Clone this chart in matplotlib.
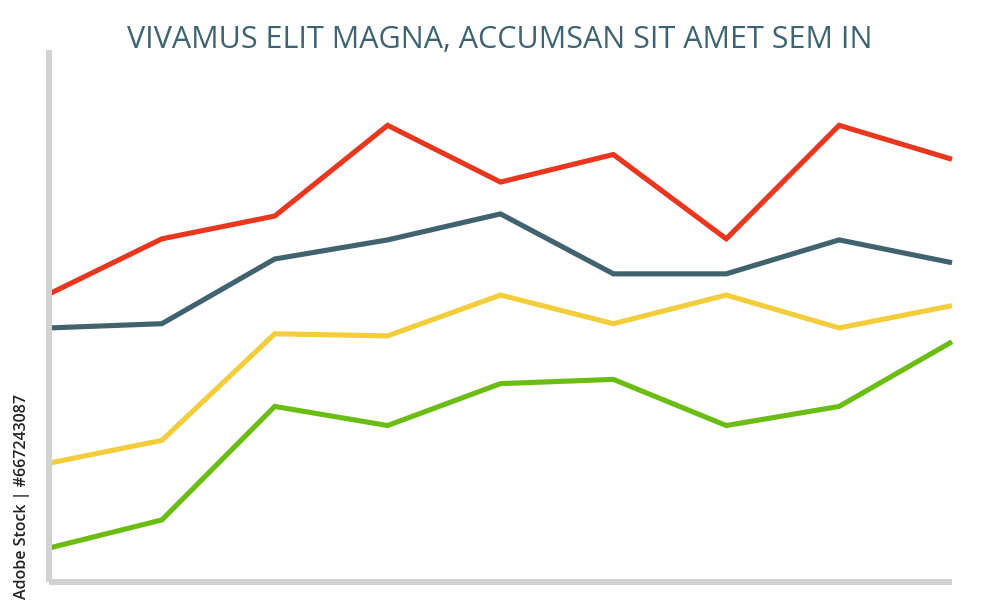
import matplotlib.pyplot as plt

x = list(range(9))
red = [54.3, 64.7, 69.0, 86.1, 75.4, 80.6, 64.7, 86.1, 79.7]
slate = [47.9, 48.7, 60.9, 64.5, 69.4, 58.1, 58.1, 64.5, 60.2]
yellow = [22.4, 26.7, 46.8, 46.4, 54.1, 48.7, 54.1, 47.9, 52.1]
green = [6.4, 11.7, 33.1, 29.5, 37.4, 38.2, 29.5, 33.1, 45.3]

title = "VIVAMUS ELIT MAGNA, ACCUMSAN SIT AMET SEM IN"

fig = plt.figure(figsize=(10, 6.13), dpi=100)
ax = fig.add_axes([0.049, 0.0506, 0.903, 0.8678])

for ys, c in [(red, "#e8371e"), (slate, "#41636f"), (yellow, "#f4cd3c"), (green, "#6bbd13")]:
    ax.plot(x, ys, color=c, lw=3.7, solid_joinstyle="miter", solid_capstyle="butt", clip_on=False)

ax.set_xlim(0, 8)
ax.set_ylim(0, 100.3)
for s in ["top", "right"]:
    ax.spines[s].set_visible(False)
for s in ["left", "bottom"]:
    ax.spines[s].set_color("#d2d2d2")
    ax.spines[s].set_linewidth(4.3)
    ax.spines[s].set_capstyle("butt")
ax.set_xticks([])
ax.set_yticks([])

fig.text(0.5, 0.934, title, ha="center", va="center", fontsize=22,
         color="#3e6371", family="Open Sans")
fig.text(0.022, 0.19, "Adobe Stock | #667243087", rotation=90, ha="center", va="center",
         fontsize=11.5, color="#222222", family="Open Sans", weight="semibold")

fig.savefig("out.png", dpi=100)
